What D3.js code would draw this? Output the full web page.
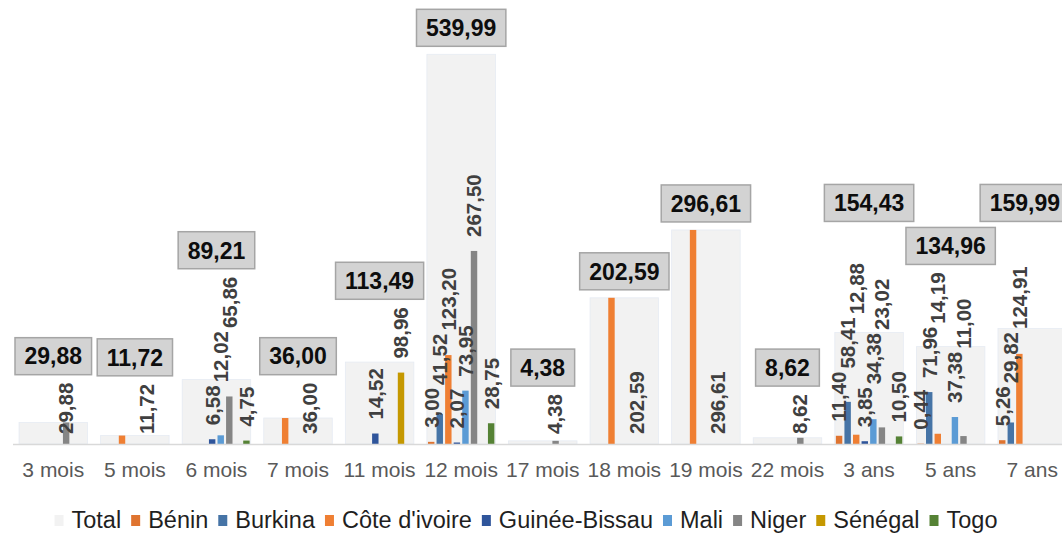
<!DOCTYPE html>
<html>
<head>
<meta charset="utf-8">
<script src="https://cdn.jsdelivr.net/npm/d3@7"></script>
<style>
  body { margin: 0; background: #fff; }
  svg { display: block; font-family: "Liberation Sans", Arial, sans-serif; }
</style>
</head>
<body>
<svg id="chart"></svg>
<script>
// data
var categories = ["3 mois", "5 mois", "6 mois", "7 mois", "11 mois", "12 mois", "17 mois", "18 mois", "19 mois", "22 mois", "3 ans", "5 ans", "7 ans"];
var seriesNames = ["Bénin", "Burkina", "Côte d'ivoire", "Guinée-Bissau", "Mali", "Niger", "Sénégal", "Togo"];
var totals = [29.88, 11.72, 89.21, 36.00, 113.49, 539.99, 4.38, 202.59, 296.61, 8.62, 154.43, 134.96, 159.99];
var benin = [0, 0, 0, 0, 0, 3.00, 0, 0, 0, 0, 11.40, 0.44, 5.26];
var burkina = [0, 0, 0, 0, 0, 41.52, 0, 0, 0, 0, 58.41, 71.96, 29.82];
var coteIvoire = [0, 11.72, 0, 36.00, 0, 123.20, 0, 202.59, 296.61, 0, 12.88, 14.19, 124.91];
var guineeBissau = [0, 0, 6.58, 0, 14.52, 2.07, 0, 0, 0, 0, 3.85, 0, 0];
var mali = [0, 0, 12.02, 0, 0, 73.95, 0, 0, 0, 0, 34.38, 37.38, 0];
var niger = [29.88, 0, 65.86, 0, 0, 267.50, 4.38, 0, 0, 8.62, 23.02, 11.00, 0];
var senegal = [0, 0, 0, 0, 98.96, 0, 0, 0, 0, 0, 0, 0, 0];
var togo = [0, 0, 4.75, 0, 0, 28.75, 0, 0, 0, 0, 10.50, 0, 0];

var seriesValues = [benin, burkina, coteIvoire, guineeBissau, mali, niger, senegal, togo];
var colors = ["#df7430", "#4674a6", "#ef7f33", "#2f559b", "#5b9bd5", "#858585", "#c59800", "#558235"];
var totalColor = "#f2f2f2";

var svgWidth = 1062, svgHeight = 534;
var baseY = 444;

var svg = d3.select("#chart")
    .attr("width", svgWidth)
    .attr("height", svgHeight);

var x = d3.scaleBand()
    .domain(categories)
    .range([12.5, 1073])
    .paddingInner(0.16)
    .paddingOuter(0.08);

var xSeries = d3.scaleBand()
    .domain(seriesNames)
    .range([0, x.bandwidth()])
    .paddingInner(0.25)
    .paddingOuter(0.125);

var y = d3.scaleLinear()
    .domain([0, 600])
    .range([baseY, 11]);

var fmt = function(v) { return d3.format(".2f")(v).replace(".", ","); };

// total bars (wide, behind)
svg.append("g")
    .selectAll("rect")
    .data(totals)
    .enter()
    .append("rect")
    .attr("x", function(d, i) { return x(categories[i]); })
    .attr("y", function(d) { return y(d); })
    .attr("width", x.bandwidth())
    .attr("height", function(d) { return baseY - y(d); })
    .attr("fill", totalColor)
    .attr("stroke", "#e6ebf3")
    .attr("stroke-width", 0.8);

// flatten country values
var bars = [];
seriesValues.forEach(function(vals, s) {
    vals.forEach(function(v, i) {
        bars.push({ cat: categories[i], ci: i, series: seriesNames[s], si: s, value: v });
    });
});

svg.append("g")
    .selectAll("rect")
    .data(bars.filter(function(d) { return d.value > 0; }))
    .enter()
    .append("rect")
    .attr("x", function(d) { return x(d.cat) + xSeries(d.series); })
    .attr("y", function(d) { return y(d.value); })
    .attr("width", xSeries.bandwidth())
    .attr("height", function(d) { return baseY - y(d.value); })
    .attr("fill", function(d) { return colors[d.si]; });

// x axis
var xAxis = svg.append("g")
    .attr("transform", "translate(0," + baseY + ")")
    .call(d3.axisBottom(x).tickSize(0).tickSizeOuter(0).tickPadding(18));

xAxis.select(".domain")
    .attr("stroke", "#d9d9d9")
    .attr("stroke-width", 1.5);

xAxis.selectAll("text")
    .attr("font-size", "21px")
    .attr("font-family", "Liberation Sans, Arial, sans-serif")
    .attr("fill", "#595959");

// rotated value labels
var labelLayer = svg.append("g");
var labelTops = categories.map(function() { return Infinity; });

categories.forEach(function(cat, ci) {
    var items = bars.filter(function(d) { return d.ci === ci && d.value > 0; });
    var single = items.length === 1;
    var placed = [];
    items.forEach(function(d) {
        var t = labelLayer.append("text")
            .attr("font-size", "20.5px")
            .attr("font-weight", "bold")
            .attr("fill", "#404040")
            .attr("dy", "0.36em")
            .text(fmt(d.value));
        var len = t.node().getComputedTextLength();
        var cx, bottom;
        if (single) {
            cx = x(cat) + x.bandwidth() / 2 + 12;
            bottom = baseY - 10;
        } else {
            cx = x(cat) + xSeries(d.series) + xSeries.bandwidth() / 2;
            bottom = y(d.value) - 14;
        }
        // push the label up if it runs into a neighbour
        var moved = true;
        while (moved) {
            moved = false;
            placed.forEach(function(p) {
                if (Math.abs(p.cx - cx) < 15 && bottom - len < p.bottom + 2 && bottom > p.top - 2) {
                    bottom = p.top - 3;
                    moved = true;
                }
            });
        }
        placed.push({ cx: cx, bottom: bottom, top: bottom - len });
        labelTops[ci] = Math.min(labelTops[ci], bottom - len);
        t.attr("transform", "translate(" + cx + "," + bottom + ") rotate(-90)");
    });
});

// total boxes: work out sizes first, then lift any that collide
var boxLayer = svg.append("g");
var boxH = 37;
var boxInfo = totals.map(function(d, i) {
    var t = boxLayer.append("text")
        .attr("text-anchor", "middle")
        .attr("dy", "0.36em")
        .attr("font-size", "23px")
        .attr("font-weight", "bold")
        .attr("fill", "#0d0d0d")
        .text(fmt(d));
    var tl = t.node().getComputedTextLength();
    var cx = x(categories[i]) + x.bandwidth() / 2;
    cx = Math.min(cx, svgWidth - 2 - tl / 2);   // keep the number inside the picture
    return { text: t, cx: cx, w: tl + 19, bottom: Math.min(y(d), labelTops[i]) - 8 };
});

var placedBoxes = [];
boxInfo.slice().sort(function(a, b) { return b.bottom - a.bottom; }).forEach(function(b) {
    var moved = true;
    while (moved) {
        moved = false;
        placedBoxes.forEach(function(p) {
            var overlapX = Math.abs(p.cx - b.cx) < (p.w + b.w) / 2 + 2;
            var overlapY = b.bottom - boxH < p.bottom + 2 && b.bottom > p.bottom - boxH - 2;
            if (overlapX && overlapY) {
                b.bottom = p.bottom - boxH - 6;
                moved = true;
            }
        });
    }
    placedBoxes.push(b);
});

boxInfo.forEach(function(b) {
    boxLayer.insert("rect", "text")
        .attr("x", b.cx - b.w / 2)
        .attr("y", b.bottom - boxH)
        .attr("width", b.w)
        .attr("height", boxH)
        .attr("fill", "#d3d3d3")
        .attr("stroke", "#a5a5a5")
        .attr("stroke-width", 1.5);
    b.text.attr("x", b.cx).attr("y", b.bottom - boxH / 2);
});

// legend
var legendItems = [{ name: "Total", color: totalColor }].concat(seriesNames.map(function(n, i) {
    return { name: n, color: colors[i] };
}));

var legend = svg.append("g");
var lx = 0;
legendItems.forEach(function(it) {
    legend.append("rect")
        .attr("x", lx)
        .attr("y", 515)
        .attr("width", 9)
        .attr("height", 11)
        .attr("fill", it.color);
    var t = legend.append("text")
        .attr("x", lx + 17)
        .attr("y", 528)
        .attr("font-size", "23.5px")
        .attr("fill", "#1f1f1f")
        .text(it.name);
    lx += 17 + t.node().getComputedTextLength() + 10;
});
lx -= 10;
legend.attr("transform", "translate(" + (526 - lx / 2) + ",0)");
</script>
</body>
</html>
